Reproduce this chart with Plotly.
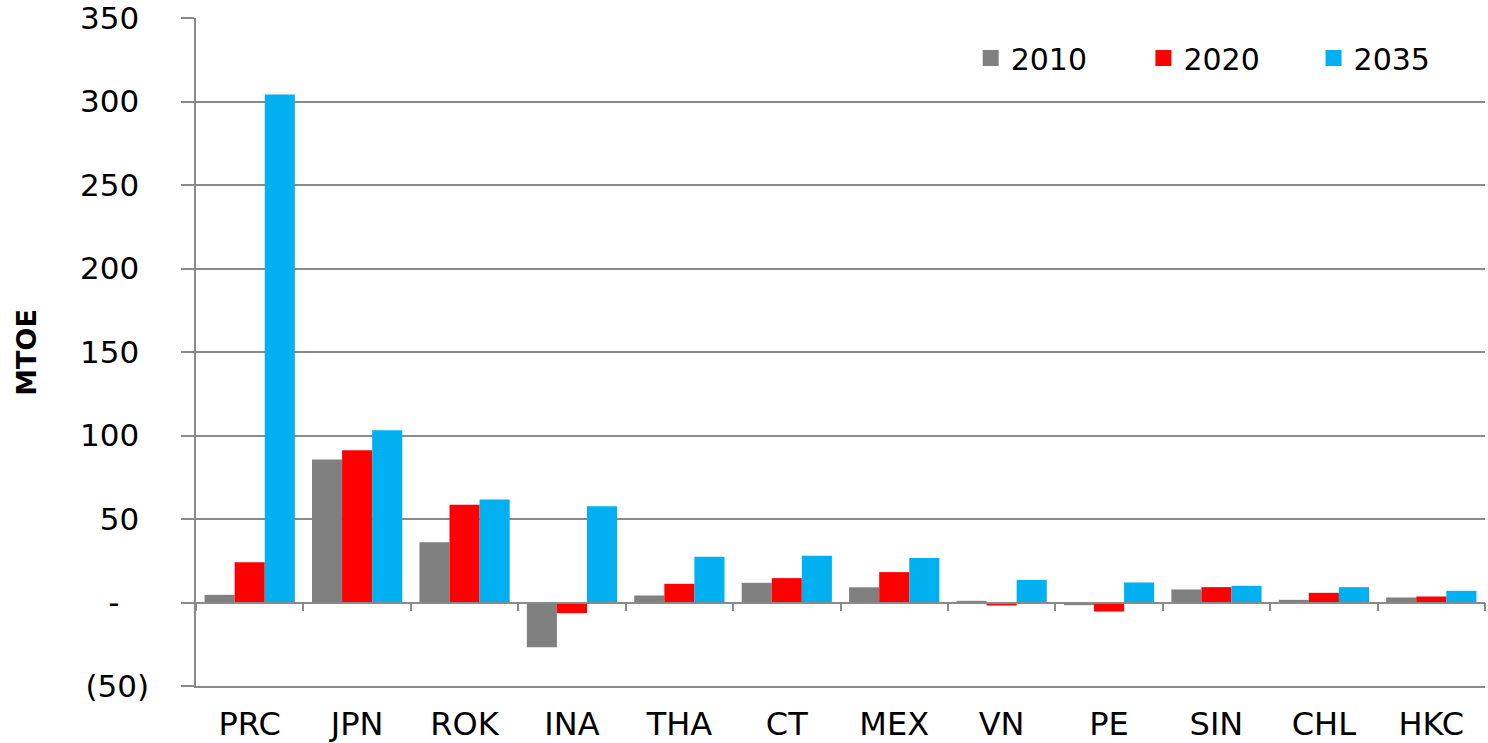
import plotly.graph_objects as go

categories = ["PRC", "JPN", "ROK", "INA", "THA", "CT", "MEX", "VN", "PE", "SIN", "CHL", "HKC"]
series_names = ["2010", "2020", "2035"]
values_2010 = [4.6, 85.6, 36.1, -26.8, 4.2, 11.8, 9.1, 1.0, -1.6, 7.8, 1.6, 3.0]
values_2020 = [24.1, 91.2, 58.5, -6.4, 11.2, 14.6, 18.2, -1.8, -5.4, 9.2, 5.8, 3.6]
values_2035 = [304.2, 103.2, 61.7, 57.7, 27.4, 28.0, 26.6, 13.5, 12.0, 10.0, 9.2, 7.0]
colors = ["#808080", "#FF0000", "#00B0F0"]

ytick_vals = [-50, 0, 50, 100, 150, 200, 250, 300, 350]
ytick_text = ["(50)", "-\u00a0\u00a0\u00a0", "50\u00a0", "100\u00a0", "150\u00a0",
              "200\u00a0", "250\u00a0", "300\u00a0", "350\u00a0"]

FONT = "DejaVu Sans"
GRID = "#8a8a8a"

fig = go.Figure()
for name, vals, col in zip(series_names, [values_2010, values_2020, values_2035], colors):
    fig.add_trace(go.Bar(x=categories, y=vals, name=name, marker=dict(color=col, line=dict(width=0)),
                         showlegend=False))
# legend entries (square swatches)
for i, (name, col) in enumerate(zip(series_names, colors)):
    fig.add_trace(go.Scatter(x=[categories[0]], y=[None], mode="markers", name=name,
                             marker=dict(symbol="square", size=16, color=col),
                             legend="legend" if i == 0 else f"legend{i+1}"))
# invisible trace on the zero-line axis (category boundary ticks)
fig.add_trace(go.Bar(x=categories, y=[None] * len(categories), xaxis="x2", showlegend=False,
                     hoverinfo="skip"))

legend_common = dict(orientation="h", yanchor="middle", xanchor="left", y=0.94,
                     font=dict(family=FONT, size=30, color="#000000"),
                     bgcolor="rgba(0,0,0,0)", itemclick=False)
fig.update_layout(
    width=1488, height=743,
    margin=dict(l=196, r=3, t=18, b=57),
    paper_bgcolor="white", plot_bgcolor="white",
    barmode="group", bargap=0.16, bargroupgap=0,
    legend=dict(x=0.601, **legend_common),
    legend2=dict(x=0.735, **legend_common),
    legend3=dict(x=0.867, **legend_common),
    xaxis=dict(type="category", categoryorder="array", categoryarray=categories,
               range=[-0.5, len(categories) - 0.5],
               showline=True, linecolor=GRID, linewidth=1.5, ticks="", showgrid=False,
               tickfont=dict(family=FONT, size=32, color="#000000"),
               ticklabelstandoff=9, automargin=False, fixedrange=True),
    xaxis2=dict(type="category", categoryorder="array", categoryarray=categories,
                overlaying="x", matches="x", anchor="free", position=0.125, side="bottom",
                showline=True, linecolor=GRID, linewidth=1.5, ticks="outside", tickson="boundaries",
                ticklen=8, tickwidth=1.5, tickcolor=GRID, showticklabels=False, showgrid=False,
                automargin=False),
    yaxis=dict(range=[-50, 350], tickvals=ytick_vals, ticktext=ytick_text,
               showline=True, linecolor=GRID, linewidth=1.5,
               showgrid=True, gridcolor=GRID, gridwidth=1.5,
               zeroline=True, zerolinecolor=GRID, zerolinewidth=1.5,
               ticks="outside", ticklen=13, tickwidth=1.5, tickcolor=GRID,
               tickfont=dict(family=FONT, size=31, color="#000000"),
               ticklabelstandoff=26, ticklabeloverflow="allow", automargin=False,
               fixedrange=True),
    annotations=[dict(text="<b>MTOE</b>", textangle=-90, xref="paper", yref="paper",
                      x=-0.132, y=0.5, xanchor="center", yanchor="middle", showarrow=False,
                      font=dict(family=FONT, size=27, color="#000000"))],
)
fig.write_html("out.html", config={"displayModeBar": False},
               post_script="document.body.style.margin='0px';")
